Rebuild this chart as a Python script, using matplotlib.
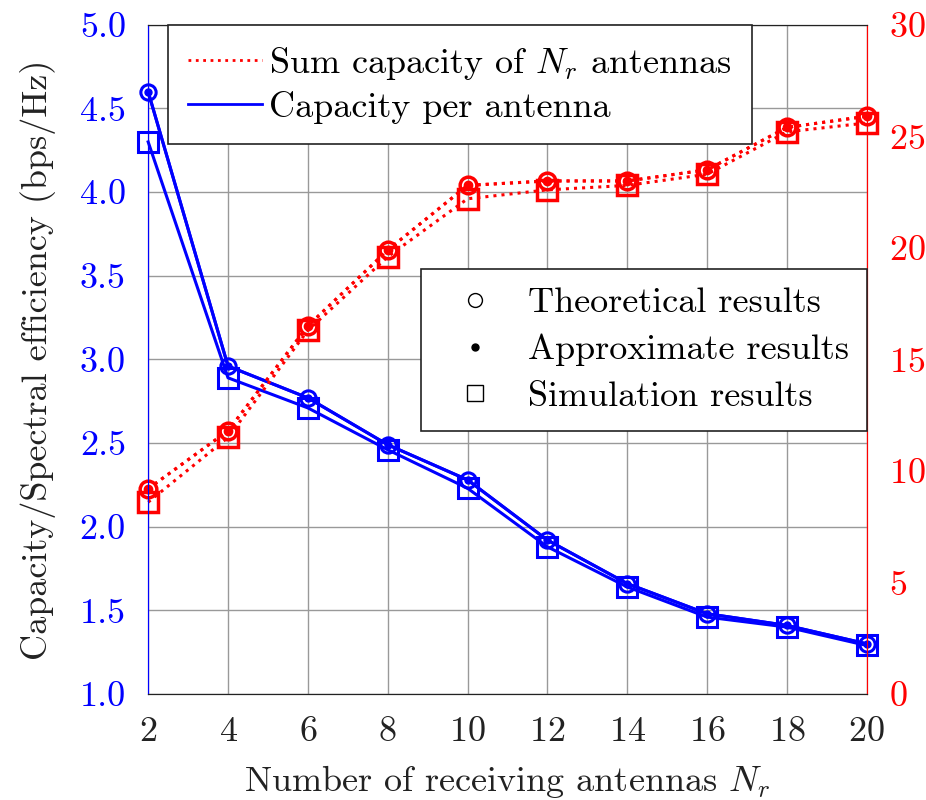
import matplotlib
matplotlib.use("Agg")
import matplotlib.pyplot as plt
from matplotlib.lines import Line2D

plt.rcParams['font.family'] = 'serif'
plt.rcParams['font.serif'] = ['cmr10', 'DejaVu Serif']
plt.rcParams['mathtext.fontset'] = 'cm'
plt.rcParams['axes.formatter.use_mathtext'] = True

nr = [2, 4, 6, 8, 10, 12, 14, 16, 18, 20]

# capacity per antenna (left axis)
per_theory = [4.60, 2.96, 2.77, 2.49, 2.28, 1.92, 1.66, 1.48, 1.41, 1.30]
per_approx = [4.60, 2.96, 2.77, 2.49, 2.28, 1.92, 1.66, 1.48, 1.41, 1.30]
per_sim = [4.30, 2.89, 2.71, 2.46, 2.23, 1.88, 1.64, 1.46, 1.40, 1.29]

# sum capacity (right axis)
sum_theory = [9.2, 11.8, 16.5, 19.9, 22.8, 23.0, 23.0, 23.5, 25.4, 25.9]
sum_approx = [9.2, 11.8, 16.5, 19.9, 22.8, 23.0, 23.0, 23.5, 25.4, 25.9]
sum_sim = [8.6, 11.5, 16.3, 19.6, 22.2, 22.6, 22.8, 23.3, 25.2, 25.6]

tick_fs = 26
lab_fs = 26
fig = plt.figure(figsize=(9.26, 8.0), dpi=100)
ax = fig.add_axes([0.160, 0.1325, 0.776, 0.8365])
ax2 = ax.twinx()

blue = '#0000ff'
red = '#ff0000'

ax.plot(nr, per_theory, '-', color=blue, lw=2.2, marker='o', ms=11, mfc='none', mew=2.2, zorder=3, clip_on=False)
ax.plot(nr, per_approx, '-', color=blue, lw=2.2, marker='o', ms=5, zorder=3, clip_on=False)
ax.plot(nr, per_sim, '-', color=blue, lw=2.2, marker='s', ms=15, mfc='none', mew=2.2, zorder=3, clip_on=False)

ax2.plot(nr, sum_theory, ':', color=red, lw=2.2, marker='o', ms=12, mfc='none', mew=2.5, clip_on=False)
ax2.plot(nr, sum_approx, ':', color=red, lw=2.2, marker='o', ms=6, clip_on=False)
ax2.plot(nr, sum_sim, ':', color=red, lw=2.2, marker='s', ms=15, mfc='none', mew=2.5, clip_on=False)

ax.set_xlim(2, 20)
ax.set_ylim(1.0, 5.0)
ax2.set_ylim(0, 30)
ax.set_xticks(nr)
ax.set_yticks([1.0, 1.5, 2.0, 2.5, 3.0, 3.5, 4.0, 4.5, 5.0])
ax.set_yticklabels(['1.0', '1.5', '2.0', '2.5', '3.0', '3.5', '4.0', '4.5', '5.0'])
ax2.set_yticks([0, 5, 10, 15, 20, 25, 30])
ax.grid(True, color='#999999', lw=1)
ax.set_axisbelow(True)

ax.tick_params(axis='x', labelsize=tick_fs, colors='#222222', direction='in', length=0, pad=16)
ax.tick_params(axis='y', labelsize=tick_fs, colors=blue, direction='in', length=0, pad=16)
ax2.tick_params(axis='y', labelsize=tick_fs, colors=red, direction='in', length=0, pad=16)
for a in (ax, ax2):
    a.spines['left'].set_color(blue)
    a.spines['right'].set_color(red)
    a.spines['top'].set_color('#222222')
    a.spines['bottom'].set_color('#222222')

ax.set_xlabel('Number of receiving antennas $N_r$', fontsize=lab_fs, color='#222222', labelpad=11)
ax.set_ylabel('Capacity/Spectral efficiency (bps/Hz)', fontsize=lab_fs, color='#222222', labelpad=17)

h1 = [Line2D([], [], color=red, ls=':', lw=2),
      Line2D([], [], color=blue, ls='-', lw=2)]
leg1 = ax2.legend(h1, ['Sum capacity of $N_r$ antennas', 'Capacity per antenna'],
                  loc='upper left', bbox_to_anchor=(0.028, 1.0), fontsize=lab_fs,
                  fancybox=False, edgecolor='#222222', framealpha=1,
                  handlelength=2.05, handletextpad=0.2, borderpad=0.55,
                  borderaxespad=0, labelspacing=0.25)
leg1.get_frame().set_linewidth(1.2)
leg1.set_zorder(10)
ax2.add_artist(leg1)

h2 = [Line2D([], [], color='black', ls='none', marker='o', ms=10, mfc='none', mew=1),
      Line2D([], [], color='black', ls='none', marker='o', ms=5),
      Line2D([], [], color='black', ls='none', marker='s', ms=11, mfc='none', mew=1)]
leg2 = ax2.legend(h2, ['Theoretical results', 'Approximate results', 'Simulation results'],
                  loc='upper right', bbox_to_anchor=(1.0, 0.635), fontsize=lab_fs,
                  fancybox=False, edgecolor='#222222', framealpha=1,
                  handlelength=2.0, handletextpad=0.45, borderpad=0.5,
                  borderaxespad=0, labelspacing=0.4)
leg2.get_frame().set_linewidth(1.2)
leg2.set_zorder(10)

fig.savefig('out.png', dpi=100)
